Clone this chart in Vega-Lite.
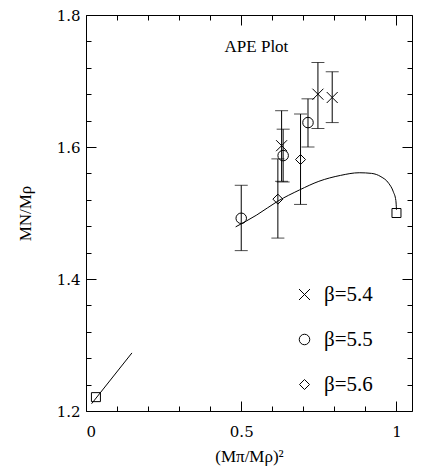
{
  "$schema": "https://vega.github.io/schema/vega-lite/v6.json",
  "width": 326,
  "height": 396,
  "autosize": "none",
  "padding": {"left": 86, "top": 15, "right": 14, "bottom": 57},
  "background": "white",
  "config": {
    "view": {"stroke": "black", "strokeWidth": 1},
    "font": "Liberation Serif",
    "style": {"guide-label": {"font": "DejaVu Serif"}, "guide-title": {"font": "Liberation Serif"}},
    "axis": {
      "grid": false,
      "domain": false,
      "tickColor": "black",
      "tickWidth": 1,
      "labelColor": "black",
      "titleColor": "black",
      "labelFont": "DejaVu Serif",
      "titleFont": "Liberation Serif",
      "labelFontSize": 15,
      "titleFontSize": 17,
      "titleFontWeight": "normal"
    },
    "legend": {
      "orient": "none",
      "legendX": 208,
      "legendY": 269,
      "rowPadding": 23,
      "labelFont": "Liberation Serif",
      "labelFontSize": 21,
      "labelColor": "black",
      "labelOffset": 9,
      "symbolStrokeColor": "black",
      "symbolStrokeWidth": 1,
      "symbolFillColor": "transparent"
    }
  },
  "datasets": {
    "pts": [
      {"series": "β=5.4", "x": 0.630, "y": 1.602, "lo": 1.548, "hi": 1.655},
      {"series": "β=5.4", "x": 0.747, "y": 1.680, "lo": 1.628, "hi": 1.728},
      {"series": "β=5.4", "x": 0.793, "y": 1.675, "lo": 1.637, "hi": 1.714},
      {"series": "β=5.5", "x": 0.500, "y": 1.492, "lo": 1.443, "hi": 1.542},
      {"series": "β=5.5", "x": 0.635, "y": 1.587, "lo": 1.547, "hi": 1.627},
      {"series": "β=5.5", "x": 0.715, "y": 1.637, "lo": 1.600, "hi": 1.673},
      {"series": "β=5.6", "x": 0.618, "y": 1.521, "lo": 1.462, "hi": 1.582},
      {"series": "β=5.6", "x": 0.691, "y": 1.581, "lo": 1.513, "hi": 1.650}
    ],
    "curve": [
      {"x": 0.482, "y": 1.479},
      {"x": 0.550, "y": 1.497},
      {"x": 0.618, "y": 1.518},
      {"x": 0.688, "y": 1.535},
      {"x": 0.750, "y": 1.548},
      {"x": 0.820, "y": 1.557},
      {"x": 0.880, "y": 1.561},
      {"x": 0.920, "y": 1.560},
      {"x": 0.950, "y": 1.555},
      {"x": 0.975, "y": 1.545},
      {"x": 0.990, "y": 1.532},
      {"x": 0.998, "y": 1.519},
      {"x": 1.000, "y": 1.505}
    ],
    "seg": [
      {"x": 0.018, "y": 1.211},
      {"x": 0.148, "y": 1.288}
    ],
    "sq": [
      {"x": 0.032, "y": 1.221},
      {"x": 1.000, "y": 1.500}
    ],
    "note": [
      {"label": "APE Plot", "x": 0.549, "y": 1.752}
    ]
  },
  "layer": [
    {
      "data": {"name": "curve"},
      "mark": {"type": "line", "color": "black", "strokeWidth": 1, "interpolate": "monotone"},
      "encoding": {
        "x": {"field": "x", "type": "quantitative", "scale": {"domain": [0, 1.05], "nice": false, "zero": false},
          "axis": {"orient": "bottom", "values": [0, 0.5, 1], "format": "~g", "tickSize": -10, "labelPadding": 23, "labelFont": "DejaVu Serif", "title": "(Mπ/Mρ)²", "titlePadding": 9}},
        "y": {"field": "y", "type": "quantitative", "scale": {"domain": [1.2, 1.8], "nice": false, "zero": false},
          "axis": {"orient": "left", "values": [1.2, 1.4, 1.6, 1.8], "format": ".1f", "tickSize": -10, "labelPadding": 16, "labelFont": "DejaVu Serif", "title": "MN/Mρ", "titlePadding": 22}}
      }
    },
    {
      "data": {"name": "pts"},
      "mark": {"type": "errorbar", "ticks": {"size": 13, "color": "black", "strokeWidth": 1}, "rule": {"color": "black", "strokeWidth": 1}},
      "encoding": {
        "x": {"field": "x", "type": "quantitative", "scale": {"domain": [0, 1.05], "nice": false, "zero": false},
          "axis": {"orient": "bottom", "values": [0.1, 0.2, 0.3, 0.4, 0.6, 0.7, 0.8, 0.9, 1.0], "tickSize": -5, "labels": false, "title": null}},
        "y": {"field": "lo", "type": "quantitative", "scale": {"domain": [1.2, 1.8], "nice": false, "zero": false},
          "axis": {"orient": "left", "values": [1.24, 1.28, 1.32, 1.36, 1.44, 1.48, 1.52, 1.56, 1.64, 1.68, 1.72, 1.76], "tickSize": -5, "labels": false, "title": null}},
        "y2": {"field": "hi"}
      }
    },
    {
      "data": {"name": "pts"},
      "mark": {"type": "point", "filled": false, "color": "black", "strokeWidth": 1, "opacity": 1},
      "encoding": {
        "x": {"field": "x", "type": "quantitative", "scale": {"domain": [0, 1.05], "nice": false, "zero": false},
          "axis": {"orient": "top", "values": [0, 0.5, 1], "tickSize": -10, "labels": false, "title": null}},
        "y": {"field": "y", "type": "quantitative", "scale": {"domain": [1.2, 1.8], "nice": false, "zero": false},
          "axis": {"orient": "right", "values": [1.2, 1.4, 1.6, 1.8], "tickSize": -10, "labels": false, "title": null}},
        "shape": {"field": "series", "type": "nominal",
          "scale": {"domain": ["β=5.4", "β=5.5", "β=5.6"], "range": ["M-1,-1L1,1M-1,1L1,-1", "circle", "diamond"]},
          "legend": {"title": null}},
        "size": {"field": "series", "type": "nominal",
          "scale": {"domain": ["β=5.4", "β=5.5", "β=5.6"], "range": [121, 100, 75]},
          "legend": {"title": null}}
      }
    },
    {
      "data": {"name": "sq"},
      "mark": {"type": "point", "shape": "square", "filled": false, "color": "black", "strokeWidth": 1, "size": 81, "opacity": 1},
      "encoding": {
        "x": {"field": "x", "type": "quantitative", "scale": {"domain": [0, 1.05], "nice": false, "zero": false},
          "axis": {"orient": "top", "values": [0.1, 0.2, 0.3, 0.4, 0.6, 0.7, 0.8, 0.9, 1.0], "tickSize": -5, "labels": false, "title": null}},
        "y": {"field": "y", "type": "quantitative", "scale": {"domain": [1.2, 1.8], "nice": false, "zero": false},
          "axis": {"orient": "right", "values": [1.24, 1.28, 1.32, 1.36, 1.44, 1.48, 1.52, 1.56, 1.64, 1.68, 1.72, 1.76], "tickSize": -5, "labels": false, "title": null}}
      }
    },
    {
      "data": {"name": "seg"},
      "mark": {"type": "line", "color": "black", "strokeWidth": 1},
      "encoding": {
        "x": {"field": "x", "type": "quantitative", "scale": {"domain": [0, 1.05], "nice": false, "zero": false}, "axis": null},
        "y": {"field": "y", "type": "quantitative", "scale": {"domain": [1.2, 1.8], "nice": false, "zero": false}, "axis": null}
      }
    },
    {
      "data": {"name": "note"},
      "mark": {"type": "text", "font": "Liberation Serif", "fontSize": 17, "color": "black", "align": "center", "baseline": "middle"},
      "encoding": {
        "x": {"field": "x", "type": "quantitative", "scale": {"domain": [0, 1.05], "nice": false, "zero": false}, "axis": null},
        "y": {"field": "y", "type": "quantitative", "scale": {"domain": [1.2, 1.8], "nice": false, "zero": false}, "axis": null},
        "text": {"field": "label"}
      }
    }
  ],
  "resolve": {"axis": {"x": "independent", "y": "independent"}}
}
